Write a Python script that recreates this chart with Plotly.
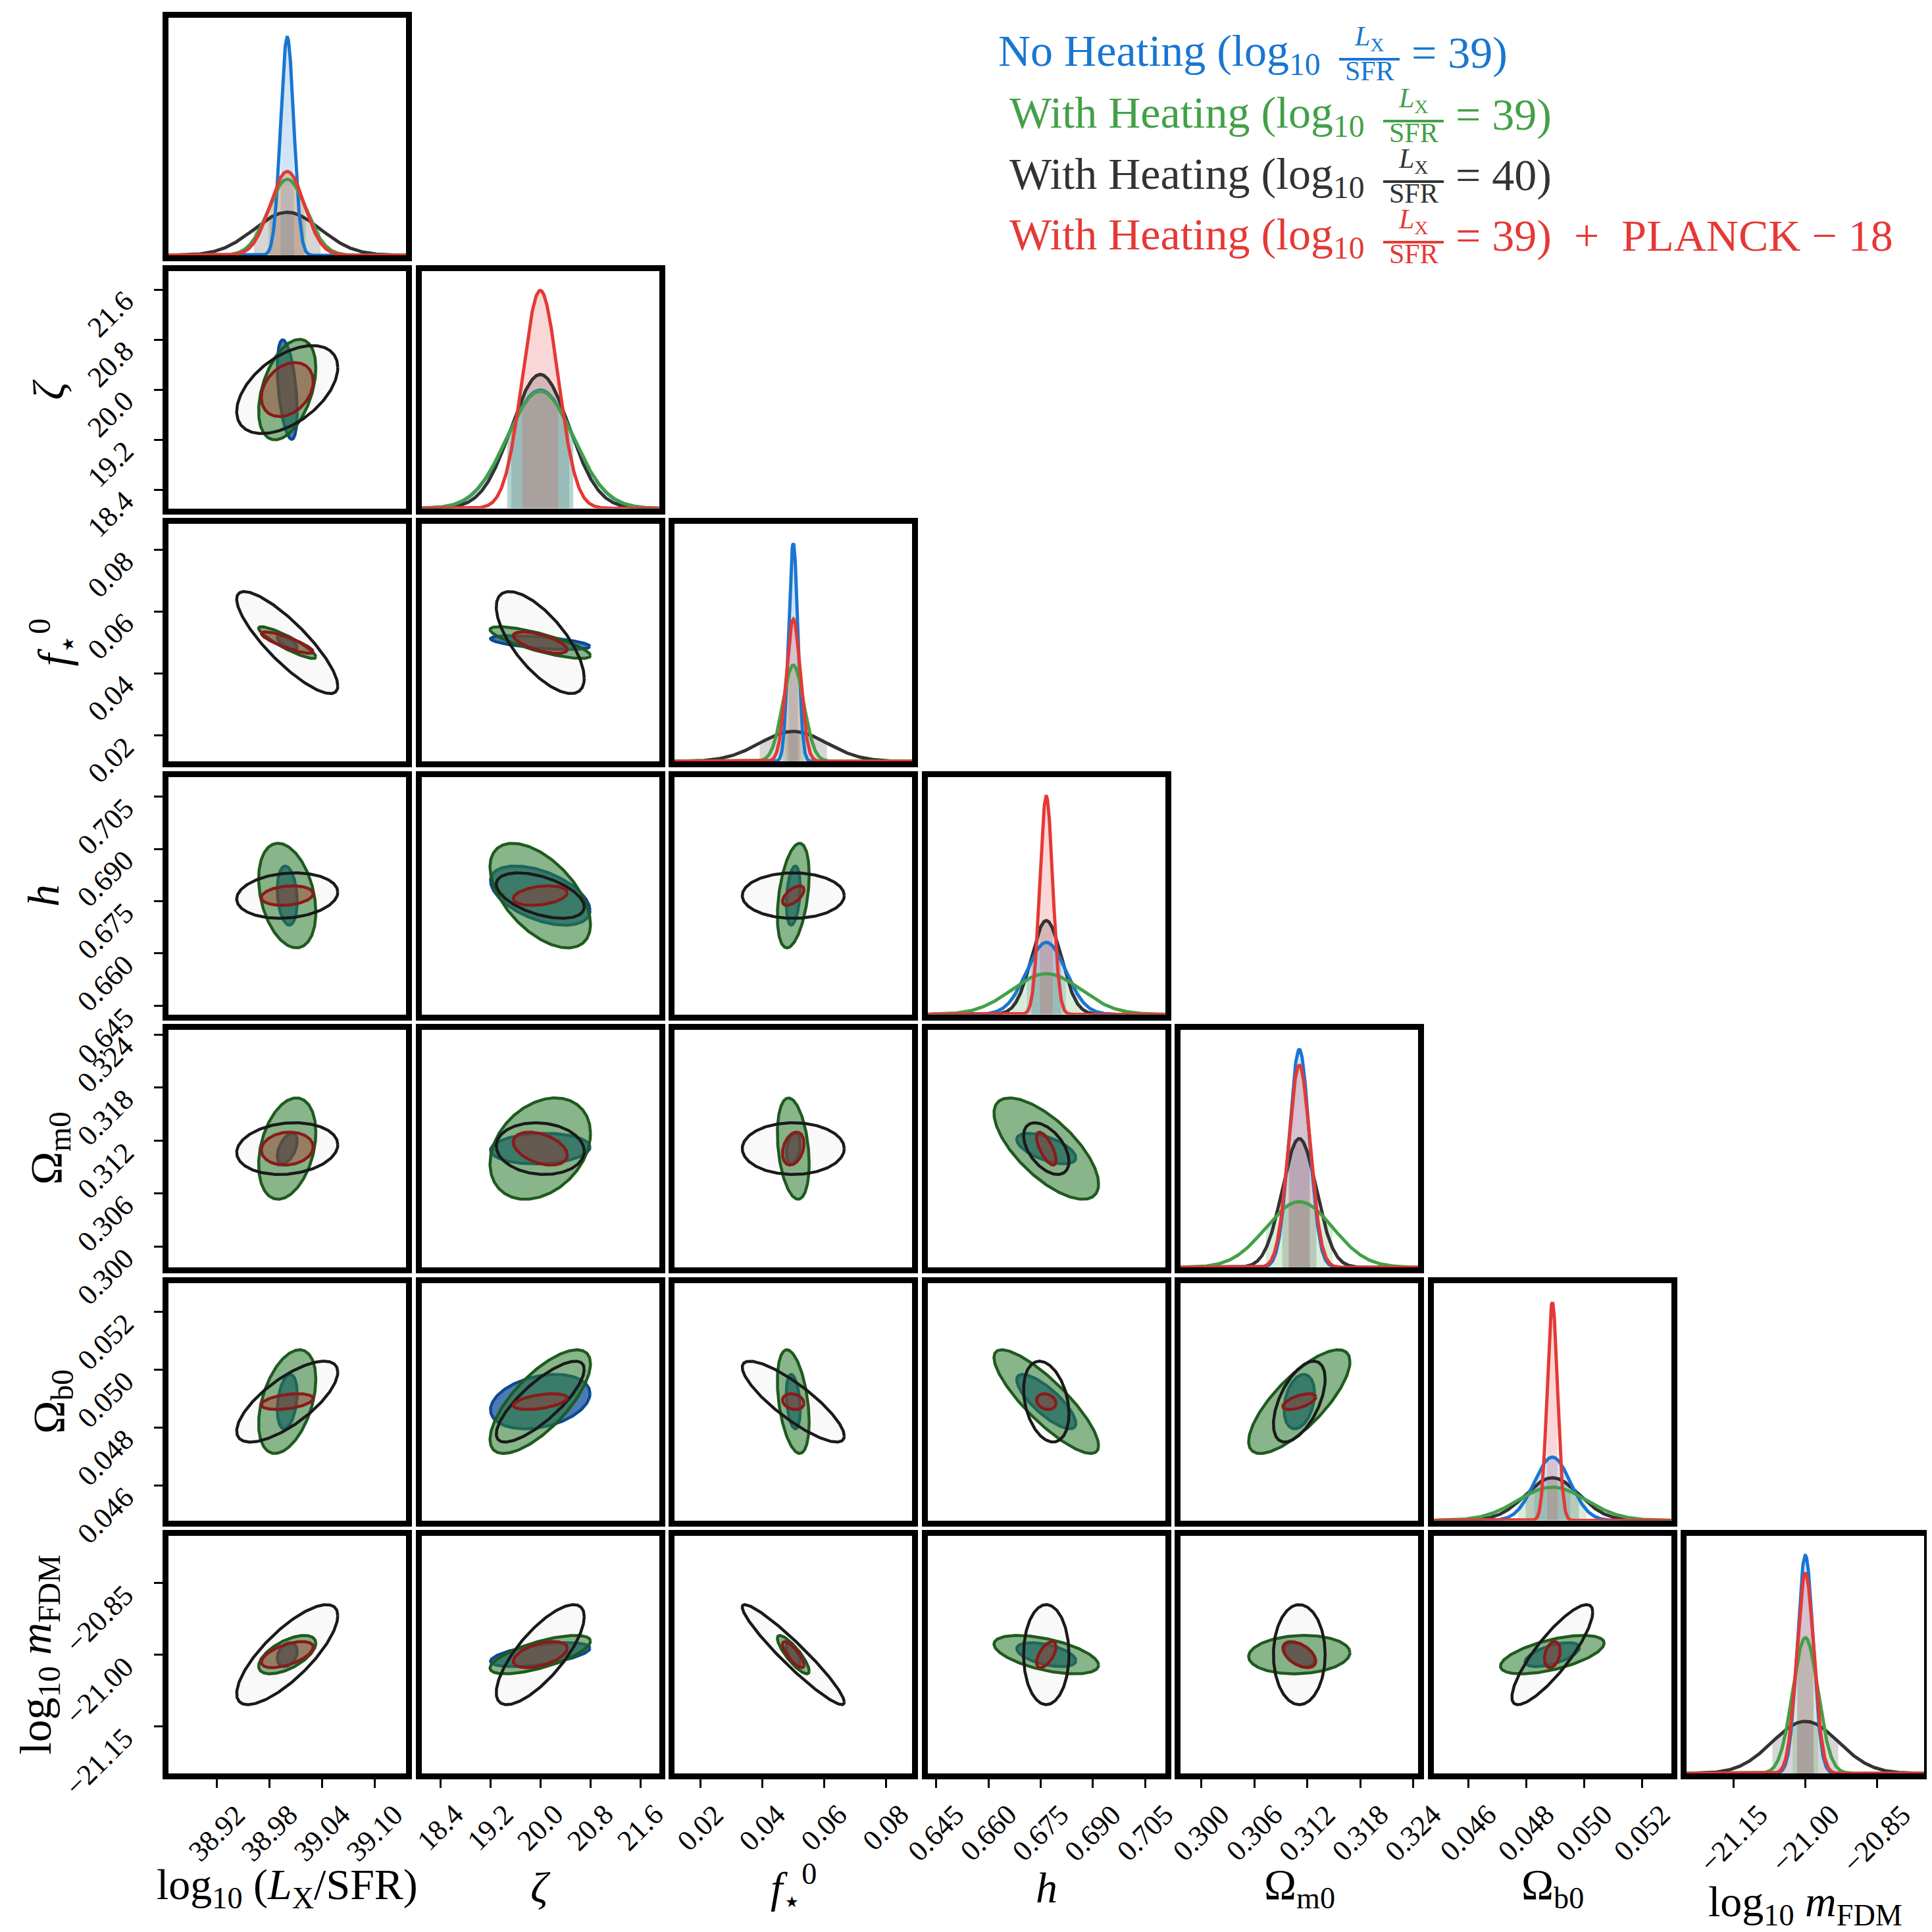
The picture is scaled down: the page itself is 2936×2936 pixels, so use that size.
import numpy as np
import plotly.graph_objects as go

# ---- parameters (fiducials, plotted half-widths, ticks) ----
x_titles = ["log<sub>10</sub> (<i>L</i><sub>X</sub>/SFR)", "<i>ζ</i>", "<i>f</i><sub>⋆</sub><sup>0</sup>",
            "<i>h</i>", "Ω<sub>m0</sub>", "Ω<sub>b0</sub>", "log<sub>10</sub> <i>m</i><sub>FDM</sub>"]
fiducial = [39.0, 20.0, 0.05, 0.6766, 0.3111, 0.0489, -21.0]
half_width = [0.1354, 1.9, 0.0385, 0.0341, 0.01344, 0.0041, 0.2486]
tick_vals = [[38.92, 38.98, 39.04, 39.10],
             [18.4, 19.2, 20.0, 20.8, 21.6],
             [0.02, 0.04, 0.06, 0.08],
             [0.645, 0.660, 0.675, 0.690, 0.705],
             [0.300, 0.306, 0.312, 0.318, 0.324],
             [0.046, 0.048, 0.050, 0.052],
             [-21.15, -21.00, -20.85]]
tick_text = [["38.92", "38.98", "39.04", "39.10"],
             ["18.4", "19.2", "20.0", "20.8", "21.6"],
             ["0.02", "0.04", "0.06", "0.08"],
             ["0.645", "0.660", "0.675", "0.690", "0.705"],
             ["0.300", "0.306", "0.312", "0.318", "0.324"],
             ["0.046", "0.048", "0.050", "0.052"],
             ["−21.15", "−21.00", "−20.85"]]

# ---- 1-sigma errors for each forecast ----
sigma_noheat = [0.0075, 0.525, 0.0015, 0.0056, 0.00114, 0.00062, 0.0165]
sigma_heat39 = [0.0215, 0.53, 0.0034, 0.0099, 0.00378, 0.00118, 0.0265]
sigma_heat40 = [0.038, 0.464, 0.0109, 0.0043, 0.00193, 0.00092, 0.069]
sigma_planck = [0.0195, 0.285, 0.0023, 0.00185, 0.00123, 0.00018, 0.018]

# correlations, pairs in order (1,0),(2,0),(2,1),(3,0),(3,1),(3,2),(4,0)...(6,5)
rho_noheat = [-0.45, -0.7, -0.56, -0.2, -0.5, 0.3, 0.5, 0.1, 0.3, -0.6,
              0.3, 0.3, -0.3, -0.8, 0.3, 0.3, 0.55, -0.7, -0.5, -0.4, 0.6]
rho_heat39 = [0.43, -0.9, -0.82, -0.32, -0.55, 0.4, 0.32, 0.3, -0.3, -0.7,
              0.43, 0.73, -0.4, -0.85, 0.77, 0.6, 0.7, -0.85, -0.55, 0.1, 0.6]
rho_heat40 = [0.5, -0.85, -0.7, 0.15, -0.5, 0.0, 0.15, -0.1, 0.0, -0.5,
              0.73, 0.8, -0.85, -0.3, 0.56, 0.78, 0.76, -0.95, 0.0, 0.0, 0.85]
rho_planck = [0.3, -0.85, -0.65, 0.2, 0.3, 0.6, 0.1, -0.4, 0.3, -0.7,
              0.4, 0.47, -0.2, -0.2, 0.6, 0.58, 0.5, -0.8, 0.6, -0.5, 0.3]

# legend pieces
leg_left = ["No Heating (log<sub>10</sub>", "With Heating (log<sub>10</sub>",
            "With Heating (log<sub>10</sub>", "With Heating (log<sub>10</sub>"]
leg_right = ["= 39)", "= 39)", "= 40)", "= 39)  +  PLANCK − 18"]

# styles
line_col = {"blue": "#1976D2", "green": "#43A047", "black": "#333333", "red": "#E53935"}
band_col = {"blue": "rgba(25,118,210,0.2)", "green": "rgba(67,160,71,0.2)",
            "black": "rgba(51,51,51,0.2)", "red": "rgba(229,57,53,0.2)"}
ell_fill = {"blue": "rgba(30,90,165,0.8)", "green": "rgba(46,125,50,0.57)",
            "black": "rgba(246,246,246,0.7)", "red": "rgba(183,28,28,0.35)"}
ell_edge = {"blue": "#0d4a8f", "green": "#1f5a1f", "black": "#1a1a1a", "red": "#8b1a1a"}

sig = {"blue": sigma_noheat, "green": sigma_heat39, "black": sigma_heat40, "red": sigma_planck}
rho = {"blue": rho_noheat, "green": rho_heat39, "black": rho_heat40, "red": rho_planck}

W = 2936
PAD_L, PAD_T, PITCH, INNER = 248, 19, 384.5, 361
K = np.sqrt(2.30)
FONT = "Liberation Serif"
npar = len(fiducial)


def ellipse(i, j, key):
    sx, sy = sig[key][j], sig[key][i]
    r = rho[key][i * (i - 1) // 2 + j]
    cov = np.array([[sx * sx, r * sx * sy], [r * sx * sy, sy * sy]])
    L = np.linalg.cholesky(cov)
    t = np.linspace(0, 2 * np.pi, 240)
    p = K * L @ np.vstack([np.cos(t), np.sin(t)])
    return fiducial[j] + p[0], fiducial[i] + p[1]


tickmarks = dict(ticks="outside", ticklen=13, tickwidth=3, tickcolor="black")
annotations = []

fig = go.Figure()
layout = {}
n = 0
for i in range(npar):
    for j in range(i + 1):
        n += 1
        xa, ya = "x%d" % n, "y%d" % n
        x0 = (PAD_L + j * PITCH) / W
        ytop = PAD_T + i * PITCH
        y1 = 1 - ytop / W
        lo, hi = fiducial[j] - half_width[j], fiducial[j] + half_width[j]
        xax = dict(domain=[x0, x0 + INNER / W], anchor=ya, range=[lo, hi], automargin=False,
                   showline=True, mirror=True, linecolor="black", linewidth=9,
                   showgrid=False, zeroline=False, showticklabels=False, ticks="")
        yax = dict(domain=[y1 - INNER / W, y1], anchor=xa, automargin=False,
                   showline=True, mirror=True, linecolor="black", linewidth=9,
                   showgrid=False, zeroline=False, showticklabels=False, ticks="")
        if i == npar - 1:
            xax.update(tickvals=tick_vals[j], **tickmarks)
            for v, t in zip(tick_vals[j], tick_text[j]):
                annotations.append(dict(x=v, xref=xa, y=1 - 2724 / W, yref="paper", text=t,
                                        showarrow=False, textangle=-45, xanchor="center",
                                        yanchor="top", borderpad=0,
                                        font=dict(family=FONT, size=44, color="black")))
        if i == j:
            mu = fiducial[i]
            peak = 0.0
            xs = np.linspace(lo, hi, 600)
            for key in ["black", "blue", "green", "red"]:
                s = sig[key][i]
                xb = np.linspace(mu - s, mu + s, 120)
                yb = np.exp(-0.5 * ((xb - mu) / s) ** 2) / (s * np.sqrt(2 * np.pi))
                fig.add_trace(go.Scatter(x=xb, y=yb, xaxis=xa, yaxis=ya, mode="lines",
                                         line=dict(width=0), fill="tozeroy",
                                         fillcolor=band_col[key], hoverinfo="skip"))
            for key in ["black", "blue", "green", "red"]:
                s = sig[key][i]
                ys = np.exp(-0.5 * ((xs - mu) / s) ** 2) / (s * np.sqrt(2 * np.pi))
                peak = max(peak, ys.max())
                fig.add_trace(go.Scatter(x=xs, y=ys, xaxis=xa, yaxis=ya, mode="lines",
                                         line=dict(color=line_col[key], width=5)))
            yax["range"] = [0, 1.09 * peak]
        else:
            yax["range"] = [fiducial[i] - half_width[i], fiducial[i] + half_width[i]]
            if j == 0:
                yax.update(tickvals=tick_vals[i], **tickmarks)
                for v, t in zip(tick_vals[i], tick_text[i]):
                    annotations.append(dict(x=206 / W, xref="paper", y=v, yref=ya, text=t,
                                            showarrow=False, textangle=-45, xanchor="right",
                                            yanchor="top", yshift=8, borderpad=0,
                                            font=dict(family=FONT, size=44, color="black")))
            ex, ey = ellipse(i, j, "black")
            fig.add_trace(go.Scatter(x=ex, y=ey, xaxis=xa, yaxis=ya, mode="lines",
                                     line=dict(width=0), fill="toself",
                                     fillcolor=ell_fill["black"]))
            for key in ["blue", "green", "black", "red"]:
                ex, ey = ellipse(i, j, key)
                fig.add_trace(go.Scatter(x=ex, y=ey, xaxis=xa, yaxis=ya, mode="lines",
                                         line=dict(color=ell_edge[key], width=4.5),
                                         fill="none" if key == "black" else "toself",
                                         fillcolor=ell_fill[key]))
        layout["xaxis%d" % n] = xax
        layout["yaxis%d" % n] = yax

# axis titles
for j in range(npar):
    cx = (PAD_L + j * PITCH + INNER / 2) / W
    ty = 2886 if j == npar - 1 else 2860
    annotations.append(dict(x=cx, y=1 - ty / W, xref="paper", yref="paper", text=x_titles[j],
                            showarrow=False, xanchor="center", yanchor="middle",
                            font=dict(family=FONT, size=66, color="black")))
ytitle_x = [66, 74, 58, 66, 70, 50]
for i in range(1, npar):
    cy = 1 - (PAD_T + i * PITCH + INNER / 2) / W
    annotations.append(dict(x=ytitle_x[i - 1] / W, y=cy, xref="paper", yref="paper",
                            text=x_titles[i], showarrow=False, xanchor="center",
                            yanchor="middle", textangle=-90,
                            font=dict(family=FONT, size=68, color="black")))

# legend text
leg_keys = ["blue", "green", "black", "red"]
line_y = [76, 170, 262, 354]
frac_c = [2073, 2140, 2140, 2140]
shapes = []
for k in range(4):
    c = line_col[leg_keys[k]]
    yc = line_y[k]
    fc = frac_c[k]
    annotations.append(dict(x=(fc - 72) / W, y=1 - (yc - 2) / W, xref="paper", yref="paper",
                            text=leg_left[k], showarrow=False, xanchor="right", yanchor="middle",
                            font=dict(family=FONT, size=68, color=c)))
    annotations.append(dict(x=fc / W, y=1 - (yc - 26) / W, xref="paper", yref="paper",
                            text="<i>L</i><sub>X</sub>", showarrow=False, xanchor="center",
                            yanchor="middle", borderpad=0, font=dict(family=FONT, size=42, color=c)))
    annotations.append(dict(x=fc / W, y=1 - (yc + 24) / W, xref="paper", yref="paper",
                            text="SFR", showarrow=False, xanchor="center",
                            yanchor="middle", borderpad=0, font=dict(family=FONT, size=42, color=c)))
    annotations.append(dict(x=(fc + 62) / W, y=1 - (yc - 4) / W, xref="paper", yref="paper",
                            text=leg_right[k], showarrow=False, xanchor="left", yanchor="middle",
                            font=dict(family=FONT, size=68, color=c)))
    shapes.append(dict(type="line", xref="paper", yref="paper",
                       x0=(fc - 46) / W, x1=(fc + 46) / W, y0=1 - (yc + 6) / W, y1=1 - (yc + 6) / W,
                       line=dict(color=c, width=4)))

fig.update_layout(width=W, height=W, margin=dict(l=0, r=0, t=0, b=0, autoexpand=False),
                  plot_bgcolor="white", paper_bgcolor="white", showlegend=False,
                  annotations=annotations, shapes=shapes, **layout)
fig.write_html("out.html")
